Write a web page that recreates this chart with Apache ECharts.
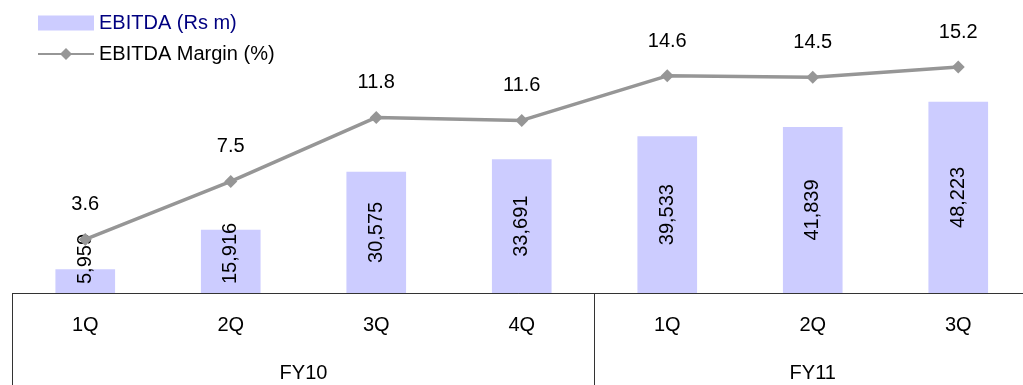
<!DOCTYPE html>
<html>
<head>
<meta charset="utf-8">
<script src="https://cdn.jsdelivr.net/npm/echarts@6/dist/echarts.min.js"></script>
<style>
html,body{margin:0;padding:0;background:#fff;}
#chart{width:1023px;height:385px;}
</style>
</head>
<body>
<div id="chart"></div>
<script>
// ---- data ----
var quarters = ['1Q', '2Q', '3Q', '4Q', '1Q', '2Q', '3Q'];
var groups = ['FY10', 'FY11'];
var groupSizes = [4, 3];
var ebitda = [5959, 15916, 30575, 33691, 39533, 41839, 48223];
var margin = [3.6, 7.5, 11.8, 11.6, 14.6, 14.5, 15.2];
var barName = 'EBITDA (Rs m)';
var lineName = 'EBITDA Margin (%)';

// ---- helpers ----
var FONT = '"Liberation Sans", Arial, sans-serif';
var groupStarts = [];
var groupCenters = [];
(function () {
  var s = 0;
  for (var i = 0; i < groupSizes.length; i++) {
    groupStarts.push(s);
    groupCenters.push(s + (groupSizes[i] - 1) / 2);
    s += groupSizes[i];
  }
})();
function fmtNum(v) {
  return String(v).replace(/\B(?=(\d{3})+(?!\d))/g, ',');
}
var barData = ebitda.map(function (v) {
  var item = { value: v };
  if (v < 20000) {
    item.label = { position: 'insideBottom', align: 'left', verticalAlign: 'middle', distance: 9 };
  }
  return item;
});

var chart = echarts.init(document.getElementById('chart'), null, { renderer: 'canvas' });
chart.setOption({
  animation: false,
  backgroundColor: '#ffffff',
  textStyle: { fontFamily: FONT },
  legend: {
    orient: 'vertical',
    left: 37,
    top: 13,
    padding: 0,
    itemWidth: 56,
    itemHeight: 15,
    itemGap: 11,
    textStyle: { fontSize: 20, fontFamily: FONT, color: '#000' },
    data: [
      { name: barName, icon: 'rect', textStyle: { color: '#000080' } },
      { name: lineName, textStyle: { color: '#000000' } }
    ]
  },
  grid: {
    left: 12.5, width: 1018.5, top: 55, height: 238,
    containLabel: false,
    outerBoundsMode: 'none'
  },
  xAxis: [
    {
      type: 'category',
      data: quarters,
      boundaryGap: true,
      axisLine: { show: true, lineStyle: { color: '#333', width: 1 } },
      axisTick: {
        show: true,
        length: 95,
        lineStyle: { color: '#333', width: 1 },
        interval: function (index) { return groupStarts.indexOf(index) >= 0; }
      },
      axisLabel: { interval: 0, margin: 22, fontSize: 20, color: '#000', fontFamily: FONT },
      splitLine: { show: false }
    },
    {
      type: 'value',
      position: 'bottom',
      min: -0.5,
      max: quarters.length - 0.5,
      interval: 0.5,
      axisLine: { show: false },
      axisTick: { show: false },
      splitLine: { show: false },
      axisLabel: {
        margin: 70,
        fontSize: 20,
        color: '#000',
        fontFamily: FONT,
        showMinLabel: true,
        showMaxLabel: true,
        hideOverlap: false,
        formatter: function (v) {
          for (var i = 0; i < groupCenters.length; i++) {
            if (Math.abs(groupCenters[i] - v) < 1e-6) return groups[i];
          }
          return '';
        }
      }
    }
  ],
  yAxis: [
    { type: 'value', min: 0, max: 60000, show: false, splitLine: { show: false } },
    { type: 'value', min: 0, max: 16, show: false, splitLine: { show: false } }
  ],
  series: [
    {
      name: barName,
      type: 'bar',
      xAxisIndex: 0,
      yAxisIndex: 0,
      data: barData,
      barWidth: '41%',
      itemStyle: { color: '#CCCCFF' },
      z: 2,
      label: {
        show: true,
        position: 'inside',
        rotate: 90,
        fontSize: 20,
        color: '#000',
        fontFamily: FONT,
        formatter: function (p) { return fmtNum(p.value); }
      }
    },
    {
      name: lineName,
      type: 'line',
      xAxisIndex: 0,
      yAxisIndex: 1,
      data: margin,
      symbol: 'diamond',
      symbolSize: 13,
      lineStyle: { color: '#969696', width: 3.5 },
      itemStyle: { color: '#969696' },
      z: 3,
      label: {
        show: true,
        position: 'top',
        distance: 18,
        fontSize: 20,
        color: '#000',
        fontFamily: FONT,
        formatter: function (p) { return p.value.toFixed(1); }
      }
    }
  ]
});
</script>
</body>
</html>
